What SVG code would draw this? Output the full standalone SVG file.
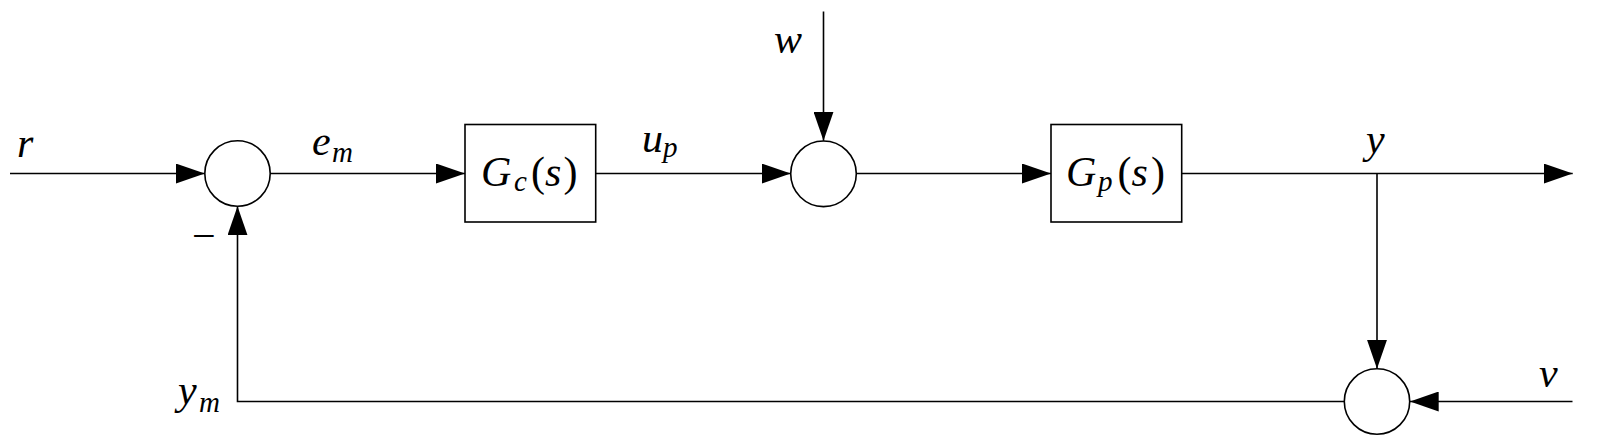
<svg xmlns="http://www.w3.org/2000/svg" width="1599" height="444" viewBox="0 0 1599 444">
  <style>
    .ln { fill: none; stroke: #000; stroke-width: 1.6; }
    .blk { fill: #fff; stroke: #000; stroke-width: 1.6; }
    .m { font-family: 'Liberation Serif', 'Times New Roman', serif; font-style: italic; font-size: 42px; fill: #000; }
    .sub { font-size: 29px; }
    .up { font-style: normal; }
  </style>
  <defs>
    <marker id="arr" viewBox="0 0 29 20" markerUnits="userSpaceOnUse" markerWidth="29" markerHeight="20" refX="29" refY="10" orient="auto">
      <path d="M0,0 L29,10 L0,20 Z" fill="#000"/>
    </marker>
  </defs>

  <g id="connectors">
    <path class="ln" d="M10,173.5 H204.8" marker-end="url(#arr)"/>
    <path class="ln" d="M270.2,173.5 H465" marker-end="url(#arr)"/>
    <path class="ln" d="M595.7,173.5 H790.7" marker-end="url(#arr)"/>
    <path class="ln" d="M823.5,11.5 V140.8" marker-end="url(#arr)"/>
    <path class="ln" d="M856.3,173.5 H1051" marker-end="url(#arr)"/>
    <path class="ln" d="M1181.7,173.5 H1572.7" marker-end="url(#arr)"/>
    <path class="ln" d="M1377,173.5 V368.8" marker-end="url(#arr)"/>
    <path class="ln" d="M1572.5,401.5 H1409.7" marker-end="url(#arr)"/>
    <path class="ln" d="M1344.3,401.5 H237.5 V206.2" marker-end="url(#arr)"/>
  </g>

  <g id="sum1">
    <circle class="blk" cx="237.5" cy="173.5" r="32.7"/>
    <text class="m up" x="192" y="249.5">−</text>
  </g>
  <g id="Gc">
    <rect class="blk" x="465" y="124.5" width="130.7" height="97.5"/>
    <text class="m" y="186"><tspan x="481">G</tspan><tspan class="sub" x="514" y="191">c</tspan><tspan class="up" x="531" y="186">(</tspan><tspan x="545" y="186">s</tspan><tspan class="up" x="563.5" y="186">)</tspan></text>
  </g>
  <g id="sum2">
    <circle class="blk" cx="823.5" cy="173.8" r="32.8"/>
  </g>
  <g id="Gp">
    <rect class="blk" x="1051" y="124.5" width="130.7" height="97.5"/>
    <text class="m" y="186"><tspan x="1066">G</tspan><tspan class="sub" x="1098" y="191">p</tspan><tspan class="up" x="1117.5" y="186">(</tspan><tspan x="1131.5" y="186">s</tspan><tspan class="up" x="1151" y="186">)</tspan></text>
  </g>
  <g id="sum3">
    <circle class="blk" cx="1377" cy="401.5" r="32.7"/>
  </g>

  <g id="labels">
    <text class="m" x="17" y="157">r</text>
    <text class="m" y="154.5"><tspan x="312">e</tspan><tspan class="sub" x="332" y="161.5">m</tspan></text>
    <text class="m" y="151.5"><tspan x="642">u</tspan><tspan class="sub" x="663" y="157">p</tspan></text>
    <text class="m" x="774" y="52.5">w</text>
    <text class="m" x="1366" y="153">y</text>
    <text class="m" x="1539" y="386.5">v</text>
    <text class="m" y="404"><tspan x="178">y</tspan><tspan class="sub" x="199" y="412">m</tspan></text>
  </g>
</svg>
